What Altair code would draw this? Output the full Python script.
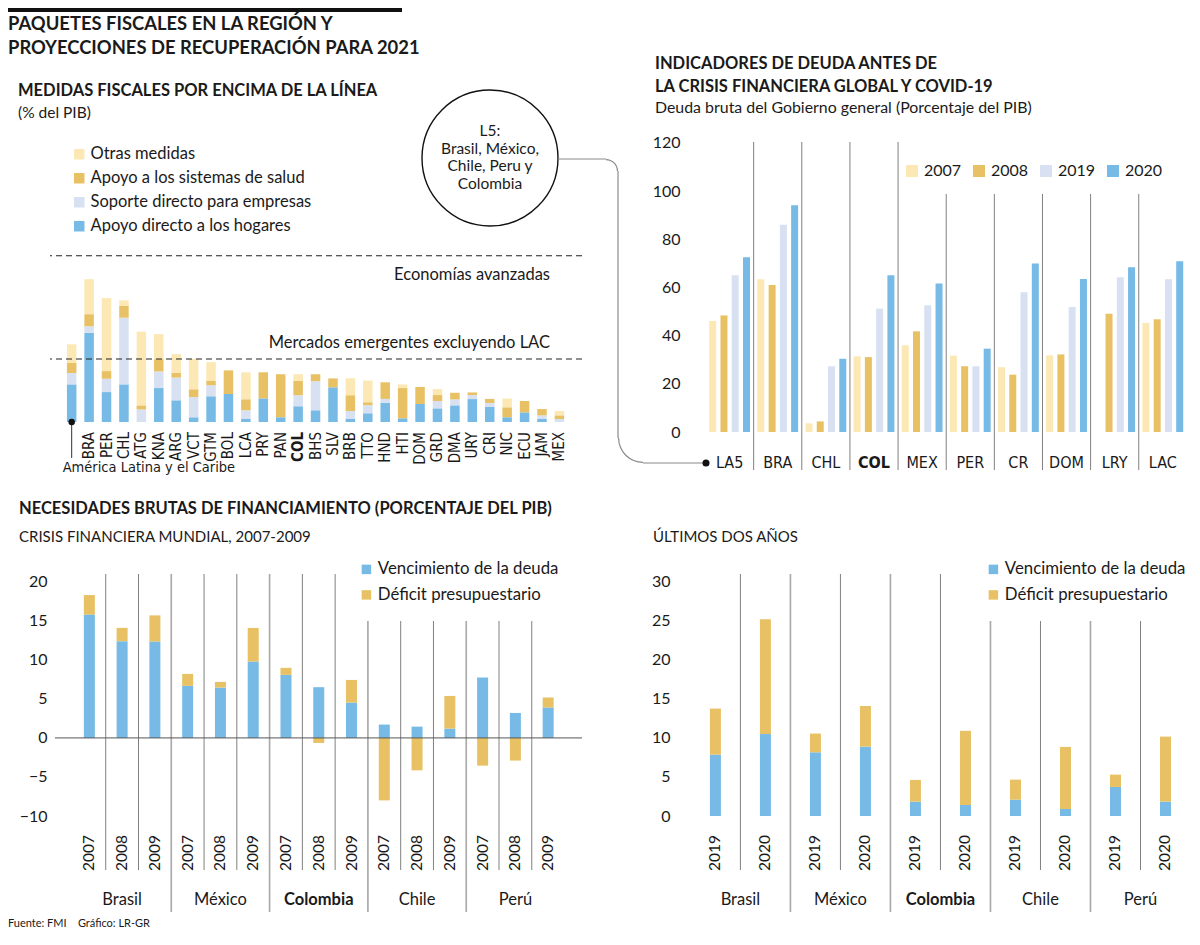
import json
import math
import altair as alt
import pandas as pd

FONT = "Lato, Liberation Sans, sans-serif"
COND = "Liberation Sans Narrow, DejaVu Sans Condensed, Lato, sans-serif"
INK = "#1a1a1a"
SEP = "#808080"
SEP_GROUP = "#ababab"
LINK = "#8a8a8a"
C_LIGHT_Y = "#FCE8B4"
C_GOLD = "#E8C164"
C_LIGHT_B = "#D7E1F1"
C_BLUE = "#76BAE5"
NOVIEW = alt.ViewBackground(stroke="transparent", strokeWidth=0, fill="white")

# ---------------- texts ----------------
main_title = ["PAQUETES FISCALES EN LA REGIÓN Y", "PROYECCIONES DE RECUPERACIÓN PARA 2021"]
a_title = "MEDIDAS FISCALES POR ENCIMA DE LA LÍNEA"
a_sub = "(% del PIB)"
b_title = ["INDICADORES DE DEUDA ANTES DE", "LA CRISIS FINANCIERA GLOBAL Y COVID-19"]
b_sub = "Deuda bruta del Gobierno general (Porcentaje del PIB)"
c_section = "NECESIDADES BRUTAS DE FINANCIAMIENTO (PORCENTAJE DEL PIB)"
c_sub = "CRISIS FINANCIERA MUNDIAL, 2007-2009"
d_sub = "ÚLTIMOS DOS AÑOS"
l5_lines = ["L5:", "Brasil, México,", "Chile, Peru y", "Colombia"]
footer = "Fuente: FMI\u00a0\u00a0\u00a0\u00a0Gráfico: LR-GR"

# ---------------- panel A data ----------------
a_countries = ["LAC", "BRA", "PER", "CHL", "ATG", "KNA", "ARG", "VCT", "GTM", "BOL",
               "LCA", "PRY", "PAN", "COL", "BHS", "SLV", "BRB", "TTO", "HND", "HTI",
               "DOM", "GRD", "DMA", "URY", "CRI", "NIC", "ECU", "JAM", "MEX"]
a_hogares = [2.15, 5.09, 1.71, 2.15, 0.0, 1.94, 1.24, 0.27, 1.47, 1.60,
             0.17, 1.35, 0.27, 0.90, 0.67, 1.98, 0.17, 0.50, 1.09, 0.21,
             1.03, 0.78, 0.95, 1.31, 0.86, 0.27, 0.55, 0.17, 0.0]
a_empresas = [0.65, 0.38, 0.76, 3.81, 0.72, 0.95, 1.30, 1.16, 0.63, 0.0,
              0.50, 0.0, 0.0, 0.63, 1.66, 0.0, 0.46, 0.46, 0.23, 0.0,
              0.0, 0.42, 0.34, 0.23, 0.23, 0.0, 0.0, 0.21, 0.17]
a_salud = [0.57, 0.69, 0.44, 0.67, 0.23, 0.70, 0.27, 0.44, 0.27, 1.35,
           0.63, 1.49, 2.46, 0.82, 0.40, 0.51, 0.90, 0.17, 0.95, 1.73,
           0.97, 0.34, 0.38, 0.15, 0.23, 0.57, 0.65, 0.36, 0.21]
a_otras = [1.07, 2.00, 4.17, 0.32, 4.21, 1.43, 1.07, 1.73, 1.05, 0.0,
           1.54, 0.0, 0.0, 0.38, 0.0, 0.0, 0.97, 1.24, 0.0, 0.21,
           0.0, 0.34, 0.0, 0.0, 0.0, 0.50, 0.0, 0.0, 0.25]
a_series = ["Otras medidas", "Apoyo a los sistemas de salud",
            "Soporte directo para empresas", "Apoyo directo a los hogares"]
a_bench_values = [9.5, 3.6]
a_bench_labels = ["Economías avanzadas", "Mercados emergentes excluyendo LAC"]
a_highlight = "COL"
a_group_label = "América Latina y el Caribe"

# ---------------- panel B data ----------------
b_groups = ["LA5", "BRA", "CHL", "COL", "MEX", "PER", "CR", "DOM", "LRY", "LAC"]
b_years = ["2007", "2008", "2019", "2020"]
b_2007 = [46.1, 63.4, 3.6, 31.4, 36.0, 31.7, 26.9, 31.8, None, 45.3]
b_2008 = [48.4, 61.0, 4.4, 31.1, 41.8, 27.3, 23.8, 32.2, 49.1, 46.8]
b_2019 = [65.1, 86.0, 27.3, 51.2, 52.6, 27.3, 58.0, 51.9, 64.2, 63.4]
b_2020 = [72.5, 94.1, 30.4, 65.1, 61.7, 34.6, 70.0, 63.5, 68.4, 70.9]
b_highlight = "COL"

# ---------------- panel C data ----------------
c_countries = ["Brasil", "México", "Colombia", "Chile", "Perú"]
c_years = ["2007", "2008", "2009"]
c_venc = [15.8, 12.4, 12.35, 6.67, 6.45, 9.79, 8.08, 6.5, 4.53, 1.71, 1.45, 1.2, 7.74, 3.2, 3.9]
c_def = [2.5, 1.7, 3.35, 1.53, 0.73, 4.3, 0.9, -0.64, 2.9, -8.0, -4.15, 4.18, -3.55, -2.9, 1.28]
cd_series = ["Vencimiento de la deuda", "Déficit presupuestario"]
cd_highlight = "Colombia"

# ---------------- panel D data ----------------
d_countries = ["Brasil", "México", "Colombia", "Chile", "Perú"]
d_years = ["2019", "2020"]
d_venc = [7.86, 10.5, 8.16, 8.89, 1.84, 1.41, 2.09, 0.9, 3.72, 1.84]
d_def = [5.9, 14.7, 2.4, 5.2, 2.78, 9.5, 2.57, 7.95, 1.58, 8.33]


# ---------------- helpers ----------------
def txt(s, x, y, size=15.5, weight="normal", align="left", font=FONT, color=INK):
    return alt.Chart(pd.DataFrame({"t": [s]})).mark_text(
        align=align, baseline="middle", fontSize=size, fontWeight=weight,
        font=font, color=color
    ).encode(x=alt.value(x), y=alt.value(y), text="t:N")


def axis(**kw):
    base = dict(domain=False, ticks=False, grid=False, title=None,
                labelColor=INK, labelFlush=False, labelOverlap=False)
    base.update(kw)
    return alt.Axis(**base)


def legend(x, y, **kw):
    base = dict(orient="none", legendX=x, legendY=y, title=None, symbolType="square",
                symbolSize=121, symbolStrokeWidth=0, labelFontSize=16, labelFont=FONT,
                labelColor=INK, labelOffset=5, padding=0, rowPadding=8, labelLimit=500)
    base.update(kw)
    return alt.Legend(**base)


def tick_labels(df, field, xscale, y, size, font, highlight=None, angle=0):
    """Category labels drawn as text marks positioned through the x scale."""
    out = []
    kw = dict(fontSize=size, font=font, color=INK)
    if angle:
        kw.update(angle=angle, align="right", baseline="middle")
    else:
        kw.update(align="center", baseline="middle")
    base = alt.Chart(df)
    if highlight is None:
        out.append(base.mark_text(**kw).encode(
            x=alt.X("x:Q", scale=xscale, axis=None), y=alt.value(y), text=f"{field}:N"))
    else:
        out.append(base.transform_filter(f"datum.{field} != '{highlight}'").mark_text(**kw).encode(
            x=alt.X("x:Q", scale=xscale, axis=None), y=alt.value(y), text=f"{field}:N"))
        out.append(base.transform_filter(f"datum.{field} == '{highlight}'").mark_text(
            fontWeight="bold", **kw).encode(
            x=alt.X("x:Q", scale=xscale, axis=None), y=alt.value(y), text=f"{field}:N"))
    return out


def hrule(x1, x2, y, color=LINK, w=1.2):
    return alt.Chart(pd.DataFrame({"a": [0]})).mark_rule(color=color, strokeWidth=w).encode(
        x=alt.value(x1), x2=alt.value(x2), y=alt.value(y))


def vrule(x, y1, y2, color=LINK, w=1.2):
    return alt.Chart(pd.DataFrame({"a": [0]})).mark_rule(color=color, strokeWidth=w).encode(
        x=alt.value(x), y=alt.value(y1), y2=alt.value(y2))


def corner(cx, cy, r, t1, t2, color=LINK):
    return alt.Chart(pd.DataFrame({"a": [0]})).mark_arc(
        radius=r, radius2=r - 1.2, theta=t1, theta2=t2, color=color
    ).encode(x=alt.value(cx), y=alt.value(cy))


# =============== PANEL A ===============
WA, HA = 532, 280
rows = []
stack_series = [(a_series[3], a_hogares), (a_series[2], a_empresas),
                (a_series[1], a_salud), (a_series[0], a_otras)]
for i, c in enumerate(a_countries):
    for k, (s, vals) in enumerate(stack_series):
        rows.append({"i": i, "pais": c, "serie": s, "orden": k, "v": vals[i]})
dfA = pd.DataFrame(rows)
xA = alt.Scale(domain=[-0.958, 29.01], nice=False, zero=False)
yA = alt.Scale(domain=[0, 16], nice=False)

a_bars = alt.Chart(dfA).transform_stack(
    stack="v", groupby=["i"], as_=["v0", "v1"],
    sort=[alt.SortField("orden", order="ascending")]
).mark_bar(size=9.5, orient="vertical").encode(
    x=alt.X("i:Q", scale=xA, axis=None),
    y=alt.Y("v0:Q", scale=yA, axis=axis(values=list(range(0, 17, 2)), labelFont=FONT,
                                        labelFontSize=16, labelPadding=13)),
    y2="v1:Q",
    color=alt.Color("serie:N", scale=alt.Scale(domain=a_series,
                                               range=[C_LIGHT_Y, C_GOLD, C_LIGHT_B, C_BLUE]),
                    legend=legend(21, 4, labelFontSize=16.5, rowPadding=7.0, labelOffset=3,
                                  symbolSize=110)),
)
dfAl = pd.DataFrame({"x": list(range(1, len(a_countries))), "c": a_countries[1:]})
a_xlabels = tick_labels(dfAl, "c", xA, HA + 10, 15, COND, highlight=a_highlight, angle=270)

dfBench = pd.DataFrame({"v": a_bench_values, "t": a_bench_labels})
a_rules = alt.Chart(dfBench).mark_rule(strokeDash=[6, 4], color="#222", strokeWidth=1).encode(
    y=alt.Y("v:Q", scale=yA, axis=None))
a_txt1 = alt.Chart(dfBench.iloc[[0]]).mark_text(
    align="right", baseline="middle", dy=19, fontSize=16.5, font=FONT, color=INK
).encode(y=alt.Y("v:Q", scale=yA, axis=None), x=alt.value(500), text="t:N")
a_txt2 = alt.Chart(dfBench.iloc[[1]]).mark_text(
    align="right", baseline="middle", dy=-16, fontSize=16.5, font=FONT, color=INK
).encode(y=alt.Y("v:Q", scale=yA, axis=None), x=alt.value(500), text="t:N")

dfLac = pd.DataFrame({"i": [0], "v": [0], "t": [a_group_label]})
a_dot = alt.Chart(dfLac).mark_point(filled=True, size=42, color="#111", opacity=1).encode(
    x=alt.X("i:Q", scale=xA, axis=None), y=alt.Y("v:Q", scale=yA, axis=None))
a_stem = alt.Chart(dfLac).mark_rule(color="#333", strokeWidth=1).encode(
    x=alt.X("i:Q", scale=xA, axis=None), y=alt.Y("v:Q", scale=yA, axis=None),
    y2=alt.value(316))
a_lac_txt = alt.Chart(dfLac).mark_text(
    align="left", baseline="middle", dx=-9, fontSize=14.5, font=COND, color=INK
).encode(x=alt.X("i:Q", scale=xA, axis=None), y=alt.value(326), text="t:N")

a_head = [
    alt.Chart(pd.DataFrame({"a": [0]})).mark_rect(color="#111").encode(
        x=alt.value(-42), x2=alt.value(352), y=alt.value(-134), y2=alt.value(-130)),
    txt(main_title[0], -42, -118, size=18.4, weight="bold"),
    txt(main_title[1], -42, -94, size=18.4, weight="bold"),
    txt(a_title, -32, -51, size=16.5, weight="bold"),
    txt(a_sub, -32, -29, size=15.5),
]

panelA = alt.layer(a_bars, a_rules, *a_xlabels, a_txt1, a_txt2, a_stem, a_dot, a_lac_txt,
                   *a_head).properties(width=WA, height=HA, view=NOVIEW)

# =============== PANEL B ===============
WB, HB = 508, 290
rows = []
for g, name in enumerate(b_groups):
    for k, (yr, vals) in enumerate(zip(b_years, [b_2007, b_2008, b_2019, b_2020])):
        if vals[g] is not None:
            rows.append({"g": g, "k": k, "pais": name, "anio": yr, "v": vals[g]})
dfB = pd.DataFrame(rows)
xB = alt.Scale(domain=[-0.9267, 9.4196], nice=False, zero=False)
yB = alt.Scale(domain=[0, 120.4], nice=False)

b_bars = alt.Chart(dfB).transform_calculate(
    xpos="datum.g + (datum.k - 1.5) * 0.2342"
).mark_bar(size=7, orient="vertical").encode(
    x=alt.X("xpos:Q", scale=xB, axis=None),
    y=alt.Y("v:Q", scale=yB, stack=None, axis=axis(values=list(range(0, 121, 20)), labelFont=FONT,
                                                   labelFontSize=16, labelPadding=0)),
    color=alt.Color("anio:N", scale=alt.Scale(domain=b_years,
                                              range=[C_LIGHT_Y, C_GOLD, C_LIGHT_B, C_BLUE]),
                    legend=legend(224, 21, direction="horizontal", columns=4, symbolSize=144,
                                  columnPadding=9, labelOffset=4)),
)
dfBl = pd.DataFrame({"x": list(range(len(b_groups))), "c": b_groups})
b_xlabels = tick_labels(dfBl, "c", xB, HB + 31, 16, COND, highlight=b_highlight)

b_bounds = [g + 0.5 for g in range(len(b_groups) - 1)]
b_sep1 = alt.Chart(pd.DataFrame({"x": b_bounds[:4]})).mark_rule(color=SEP, strokeWidth=1).encode(
    x=alt.X("x:Q", scale=xB, axis=None), y=alt.value(0), y2=alt.value(328))
b_sep2 = alt.Chart(pd.DataFrame({"x": b_bounds[4:]})).mark_rule(color=SEP, strokeWidth=1).encode(
    x=alt.X("x:Q", scale=xB, axis=None), y=alt.value(52), y2=alt.value(328))

CX, CY, R = -190, 16, 68
VX = -62
b_circle = alt.Chart(pd.DataFrame({"a": [0]})).mark_point(
    shape="circle", size=(2 * R) ** 2, filled=False, stroke="#111", strokeWidth=1.4, opacity=1
).encode(x=alt.value(CX), y=alt.value(CY))
b_l5 = [txt(s, CX, -11 + 17.5 * n, size=15.5, align="center") for n, s in enumerate(l5_lines)]
b_link = [
    hrule(CX + R, VX - 12, 17),
    corner(VX - 12, 29, 12, 0, math.pi / 2),
    vrule(VX, 29, 296),
    corner(VX + 25, 296, 25, math.pi, 1.5 * math.pi),
    hrule(VX + 25, 26, 321),
    alt.Chart(pd.DataFrame({"a": [0]})).mark_point(filled=True, size=50, color="#111", opacity=1).encode(
        x=alt.value(26), y=alt.value(321)),
]
b_head = [
    txt(b_title[0], -25, -78, size=16.5, weight="bold"),
    txt(b_title[1], -25, -55, size=16.5, weight="bold"),
    txt(b_sub, -25, -34, size=15.9),
]
panelB = alt.layer(b_bars, b_sep1, b_sep2, *b_xlabels, b_circle, *b_l5, *b_link,
                   *b_head).properties(width=WB, height=HB, view=NOVIEW)


# =============== PANELS C and D ===============
def need_panel(countries, years, venc, defi, width, xdom, ydom, yvals, ylabpad,
               top_rule_count, legx, heads, zero_from=None):
    H = 242
    ny = len(years)
    rows = []
    for i in range(len(venc)):
        rows.append({"i": i, "serie": cd_series[0], "orden": 0, "v": venc[i]})
        rows.append({"i": i, "serie": cd_series[1], "orden": 1, "v": defi[i]})
    df = pd.DataFrame(rows)
    xs = alt.Scale(domain=xdom, nice=False, zero=False)
    ys = alt.Scale(domain=ydom, nice=False, zero=False)
    labels = [y for _ in countries for y in years]
    bars = alt.Chart(df).transform_stack(
        stack="v", groupby=["i"], as_=["v0", "v1"],
        sort=[alt.SortField("orden", order="ascending")]
    ).mark_bar(size=11, orient="vertical").encode(
        x=alt.X("i:Q", scale=xs, axis=None),
        y=alt.Y("v0:Q", scale=ys, axis=axis(values=yvals, labelFont=FONT, labelFontSize=16,
                                            labelPadding=ylabpad)),
        y2="v1:Q",
        color=alt.Color("serie:N", scale=alt.Scale(domain=cd_series, range=[C_BLUE, C_GOLD]),
                        legend=legend(legx, -13, rowPadding=7.5, labelFontSize=16.8,
                                      symbolSize=90, labelOffset=3)),
    )
    layers = [bars]
    combos = {}
    for i in range(len(labels) - 1):
        top = 0 if i < top_rule_count else 47
        group = (i + 1) % ny == 0
        combos.setdefault((top, group), []).append(i + 0.5)
    for (top, group), xsList in combos.items():
        layers.append(alt.Chart(pd.DataFrame({"x": xsList})).mark_rule(
            color=SEP_GROUP if group else SEP, strokeWidth=1.7 if group else 1).encode(
            x=alt.X("x:Q", scale=xs, axis=None), y=alt.value(top),
            y2=alt.value(338 if group else 296)))
    if zero_from is not None:
        layers.append(alt.Chart(pd.DataFrame({"a": [0]})).mark_rule(color="#555", strokeWidth=1).encode(
            y=alt.Y(datum=0, scale=ys), x=alt.value(zero_from), x2=alt.value(width)))
    dfy = pd.DataFrame({"x": list(range(len(labels))), "yr": labels})
    layers.extend(tick_labels(dfy, "yr", xs, H + 19, 15.5, FONT, angle=270))
    dfc = pd.DataFrame({"c": countries, "x": [g * ny + (ny - 1) / 2 for g in range(len(countries))]})
    layers.extend(tick_labels(dfc, "c", xs, 326, 16.5, FONT, highlight=cd_highlight))
    layers.extend(heads)
    return alt.layer(*layers).properties(width=width, height=H, view=NOVIEW)


panelC = need_panel(
    c_countries, c_years, c_venc, c_def, 532, [-1.048, 14.88], [-10, 21],
    list(range(-10, 21, 5)), 3, 8, 308,
    [txt(c_section, -31, -65, size=16.5, weight="bold"),
     txt(c_sub, -31, -37, size=15),
     txt(footer, -42, 350, size=11)],
    zero_from=5)

panelD = need_panel(
    d_countries, d_years, d_venc, d_def, 506, [-0.608, 9.31], [0, 31],
    list(range(0, 31, 5)), 10, 5, 305,
    [txt(d_sub, -27, -37, size=15)])

chart = alt.concat(
    panelA, panelB, panelC, panelD, columns=2,
    spacing={"row": 142, "column": 98}, bounds="flush"
).resolve_scale(
    color="independent", x="independent", y="independent"
).resolve_legend(color="independent").properties(
    padding=0, background="white"
).configure_view(stroke="transparent", strokeWidth=0).configure(font=FONT)

chart.save("out.html", embed_options={"renderer": "svg", "actions": False})
